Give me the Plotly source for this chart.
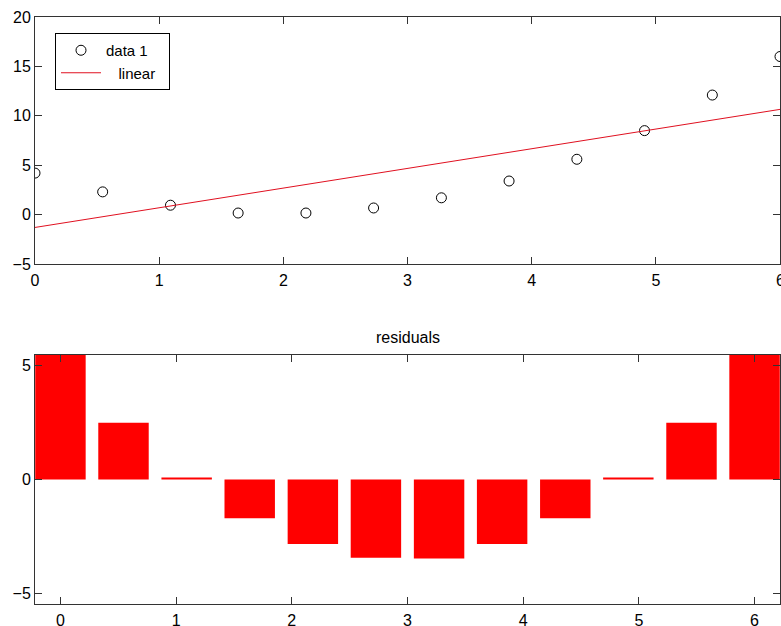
import plotly.graph_objects as go

# data
x_data = [0.0, 0.545, 1.091, 1.636, 2.182, 2.727, 3.273, 3.818, 4.364, 4.909, 5.455, 6.0]
y_data = [4.2, 2.3, 0.95, 0.16, 0.16, 0.67, 1.7, 3.4, 5.6, 8.5, 12.1, 16.0]
fit_x = [0.0, 6.0]
fit_y = [-1.3, 10.65]
residuals = [5.5, 2.49, 0.09, -1.70, -2.83, -3.43, -3.47, -2.83, -1.70, 0.09, 2.49, 5.5]
top_yticks = [-5, 0, 5, 10, 15, 20]
top_xticks = [0, 1, 2, 3, 4, 5, 6]
bot_yticks = [-5, 0, 5]
bot_xticks = [0, 1, 2, 3, 4, 5, 6]

W, H = 781, 626
ml, mr, mt, mb = 35, 1, 17, 22
ph = H - mt - mb
FONT = "Liberation Sans, Arial"

def fy(py):
    return (H - mb - py) / ph

fig = go.Figure()
fig.add_trace(go.Scatter(x=x_data, y=y_data, mode="markers", name="data 1",
                         marker=dict(symbol="circle-open", size=10, color="black", line=dict(width=1)),
                         xaxis="x", yaxis="y", cliponaxis=True))
fig.add_trace(go.Scatter(x=fit_x, y=fit_y, mode="lines", name="\u00a0\u00a0\u00a0linear\u00a0\u00a0",
                         line=dict(color="#e01020", width=1), xaxis="x", yaxis="y"))
fig.add_trace(go.Bar(x=x_data, y=residuals, marker=dict(color="#ff0000", line=dict(width=0)),
                     width=0.436, showlegend=False, xaxis="x2", yaxis="y2"))

axis_common = dict(showline=True, linecolor="#333333", linewidth=1, mirror="ticks",
                   ticks="inside", ticklen=7, tickcolor="#333333", showgrid=False,
                   zeroline=False, automargin=False,
                   tickfont=dict(family=FONT, size=16, color="black"))

fig.update_layout(
    width=W, height=H,
    margin=dict(l=ml, r=mr, t=mt, b=mb, autoexpand=False),
    paper_bgcolor="white", plot_bgcolor="white",
    xaxis=dict(domain=[0, 1], range=[0, 6], tickvals=top_xticks, anchor="y", ticklabelstandoff=2, **axis_common),
    yaxis=dict(domain=[fy(264), 1], range=[-5, 20], tickvals=top_yticks, anchor="x", **axis_common),
    xaxis2=dict(domain=[0, 1], range=[-0.22, 6.22], tickvals=bot_xticks, anchor="y2", ticklabelstandoff=2, **axis_common),
    yaxis2=dict(domain=[0, fy(355)], range=[-5.46, 5.46], tickvals=bot_yticks, anchor="x2", **axis_common),
    showlegend=True,
    legend=dict(x=(55 - ml) / 745, y=fy(33), xanchor="left", yanchor="top",
                bordercolor="black", borderwidth=1, bgcolor="white",
                font=dict(family=FONT, size=15, color="black"),
                tracegroupgap=0, itemwidth=40),
    annotations=[
        dict(text="residuals", x=0.5, y=fy(337), xref="paper", yref="paper",
             showarrow=False, font=dict(family=FONT, size=16, color="black")),
        dict(text="6", x=6, y=fy(280), xref="x", yref="paper", showarrow=False,
             font=dict(family=FONT, size=16, color="black")),
    ],
)

fig.write_html("out.html", config={"displayModeBar": False})
with open("out.html", "r", encoding="utf-8") as f:
    html = f.read()
html = html.replace("<head>", "<head><style>html,body{margin:0;padding:0;overflow:hidden;}</style>", 1)
with open("out.html", "w", encoding="utf-8") as f:
    f.write(html)
